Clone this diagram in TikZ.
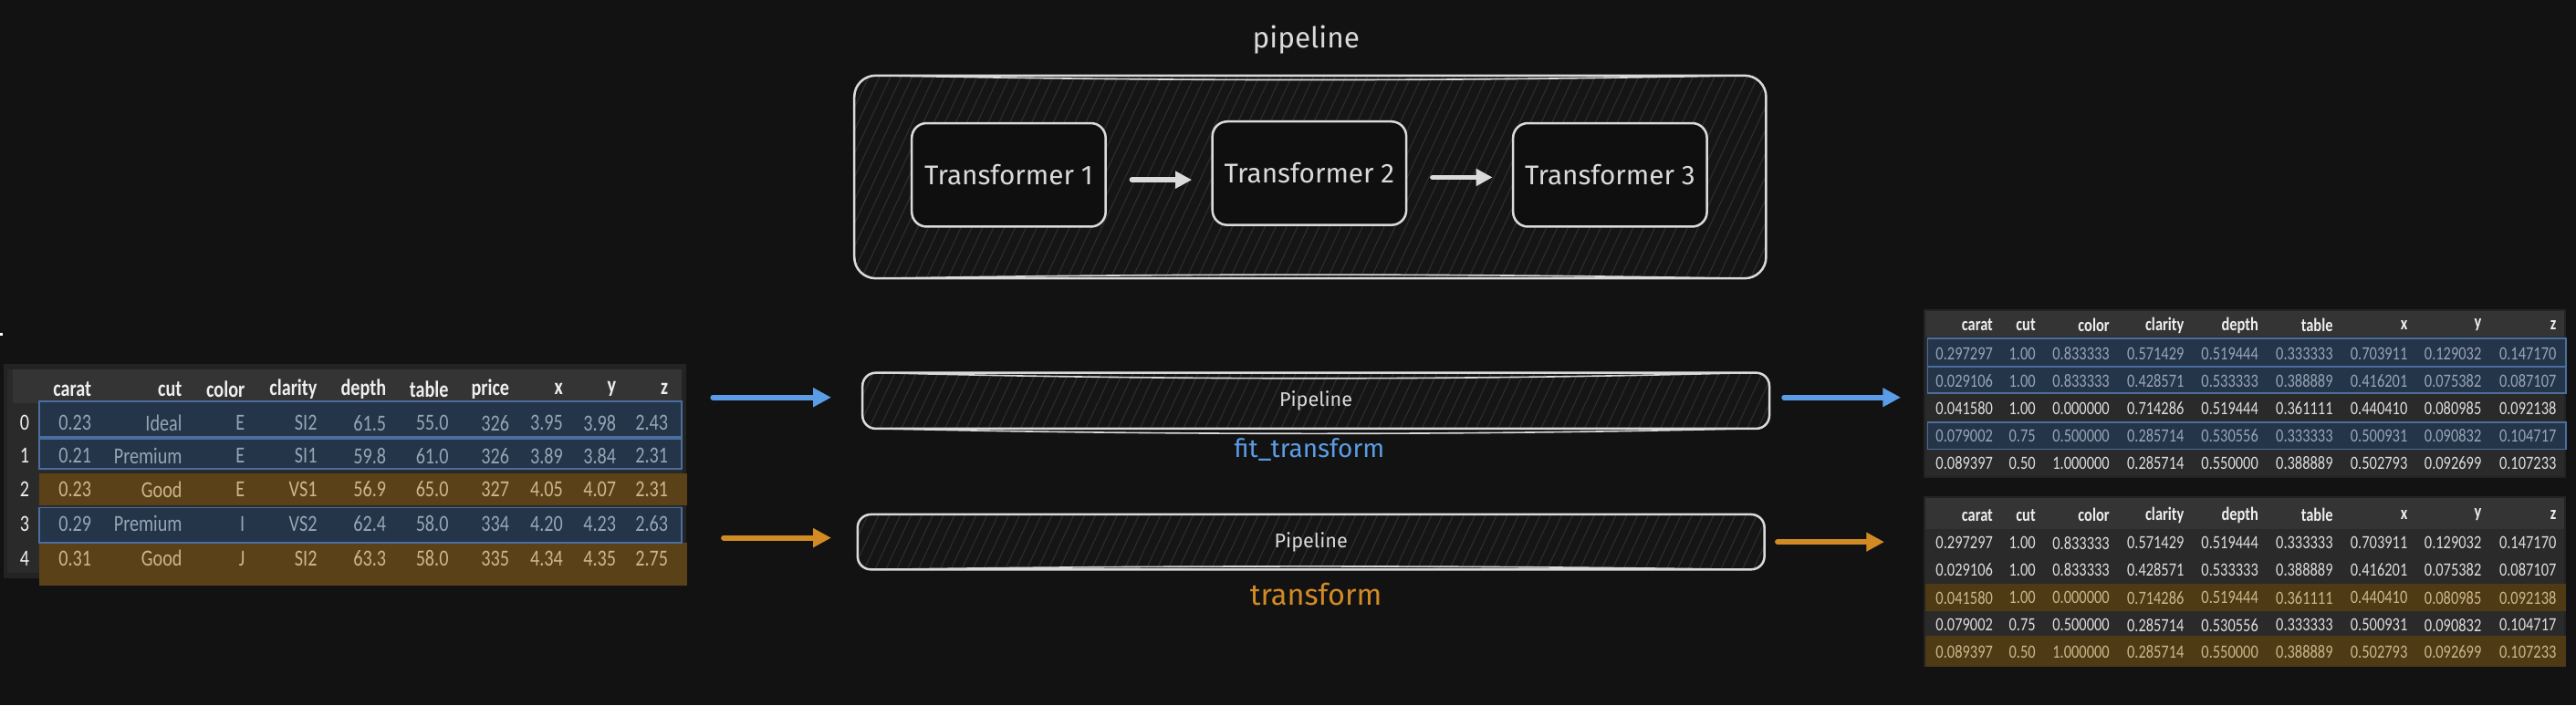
\documentclass[tikz,border=0pt]{standalone}
\usepackage{fontspec}
\usetikzlibrary{arrows.meta}
\newfontfamily\handfont{Fira Sans}
\newfontfamily\tabfont{Carlito}[FakeStretch=0.8]
\definecolor{bgc}{HTML}{121212}
\definecolor{boxc}{HTML}{DADADA}
\definecolor{hatchbg}{HTML}{151515}
\definecolor{hatchln}{HTML}{2E2E2E}
\definecolor{innerc}{HTML}{0F0F0F}
\definecolor{bluec}{HTML}{5A9DE6}
\definecolor{orangec}{HTML}{D18A24}
\definecolor{touter}{HTML}{232323}
\definecolor{tbody}{HTML}{2A2A2A}
\definecolor{theadc}{HTML}{343434}
\definecolor{hlblue}{HTML}{243449}
\definecolor{hlbluel}{HTML}{4C6E9F}
\definecolor{hlorange}{HTML}{5A4117}
\definecolor{hlorangeb}{HTML}{4E3A15}
\definecolor{txtc}{HTML}{DDDDDD}
\definecolor{headc}{HTML}{EEEEEE}
\definecolor{bluetxt}{HTML}{97A4B6}
\definecolor{orangetxt}{HTML}{CDB68A}
\def\lxs{{55.6,110.8,149,193,235,273,310,342.6,375,406.6}}
\def\rxs{{1213,1239,1284,1329.4,1374.6,1420,1465.4,1510.4,1556}}
\begin{document}
\begin{tikzpicture}[x=1pt,y=-1pt,
  every node/.style={inner sep=0pt,outer sep=0pt},
  hatched/.style={path picture={\foreach \dx in {-350,-343.4,...,350}
      \draw[hatchln,line width=0.6pt] ([shift={(\dx-35,75)}]path picture bounding box.center) -- ++(70,-150);}},
  pbox/.style={draw=boxc,line width=1.4pt,fill=hatchbg,hatched},
  sketch/.style={draw=boxc,line width=0.9pt,line cap=round},
  tbox/.style={draw=boxc,line width=1.4pt,fill=innerc,rounded corners=9pt,minimum width=118pt,minimum height=63pt,
      font=\handfont\fontsize{16.5}{19}\selectfont,text=boxc},
  handlbl/.style={font=\handfont\fontsize{17.5}{20}\selectfont},
  barlbl/.style={font=\handfont\fontsize{12}{14}\selectfont,text=boxc},
  warr/.style={draw=boxc,line width=3.2pt,line cap=round,-{Triangle[length=10pt,width=10pt]}},
  barr/.style={draw=bluec,line width=3.3pt,line cap=round,-{Triangle[length=11pt,width=11pt]}},
  oarr/.style={draw=orangec,line width=3.3pt,line cap=round,-{Triangle[length=11pt,width=11pt]}},
  tbg/.style={fill=touter},
  lcell/.style={font=\tabfont\fontsize{14}{16}\selectfont,anchor=east},
  lhead/.style={font=\tabfont\bfseries\fontsize{14}{16}\selectfont,anchor=east,text=headc},
  rcell/.style={font=\tabfont\fontsize{11.4}{13}\selectfont,anchor=east},
  rhead/.style={font=\tabfont\bfseries\fontsize{11.4}{13}\selectfont,anchor=east,text=headc},
  hlb/.style={fill=hlblue,draw=hlbluel,line width=0.9pt},
  hlo/.style={fill=hlorange},
  hlo2/.style={fill=hlorangeb}
]
\useasboundingbox (0,0) rectangle (1568,429.36);
\fill[bgc] (0,0) rectangle (1568,429.36);
\fill[white] (0,202.8) rectangle (1.7,204.5);

% ---------- pipeline overview ----------
\node[handlbl,text=boxc] (title) at (795,24) {pipeline};
\node[pbox,rounded corners=13pt,minimum width=555pt,minimum height=123.5pt] (pipe) at (797.5,107.75) {};
\draw[sketch] ([xshift=16pt]pipe.north west) .. controls +(180,3.5) and +(-180,3.5) .. ([xshift=-16pt]pipe.north east);
\draw[sketch] ([xshift=16pt]pipe.south west) .. controls +(180,-3) and +(-180,-3) .. ([xshift=-16pt]pipe.south east);
\node[tbox] (t1) at (614,106.5) {Transformer 1};
\node[tbox] (t2) at (797,105.5) {Transformer 2};
\node[tbox] (t3) at (980,106.5) {Transformer 3};
\draw[warr,shorten <=16pt,shorten >=12.5pt] ([yshift=-3pt]t1.east) -- ([yshift=-3pt]t1.east -| t2.west);
\draw[warr,shorten <=16pt,shorten >=12.5pt] ([yshift=-2.5pt]t2.east) -- ([yshift=-2.5pt]t2.east -| t3.west);

% ---------- pipeline bars ----------
\node[pbox,rounded corners=8pt,minimum width=552pt,minimum height=34pt,barlbl] (bar1) at (801,244) {Pipeline};
\draw[sketch] ([xshift=12pt]bar1.north west) .. controls +(170,4.5) and +(-170,4.5) .. ([xshift=-14pt]bar1.north east);
\draw[sketch] ([xshift=12pt]bar1.south west) .. controls +(170,4) and +(-170,4) .. ([xshift=-14pt]bar1.south east);
\node[pbox,rounded corners=8pt,minimum width=552pt,minimum height=33.5pt,barlbl] (bar2) at (798,330) {Pipeline};
\draw[sketch] ([xshift=14pt]bar2.south west) .. controls +(170,-2.5) and +(-170,-2.5) .. ([xshift=-14pt]bar2.south east);
\node[handlbl,text=bluec,font=\handfont\fontsize{15.5}{18}\selectfont] (fitlbl) at (797,274) {fit\_transform};
\node[handlbl,text=orangec,font=\handfont\fontsize{18}{20}\selectfont] (trlbl) at (801,362) {transform};

% ---------- left table ----------
\node[tbg,minimum width=415.3pt,minimum height=130.4pt] (lefttab) at (209.85,286.8) {};
\fill[tbody] (4.6,225) rectangle (415,349);
\fill[theadc] (8,225) rectangle (415,245.5);
\fill[hlo] (24,288) rectangle (418,307.5);
\fill[hlo] (24,330.5) rectangle (418,356.5);
\draw[hlb] (24,244.5) rectangle (415,266);
\draw[hlb] (24,267) rectangle (415,285.5);
\draw[hlb] (24,309) rectangle (415,330.5);
\foreach \h [count=\c] in {carat,cut,color,clarity,depth,table,price,x,y,z}{
  \pgfmathsetmacro\xx{\lxs[\c-1]}
  \node[lhead] (lh\c) at (\xx,237) {\h};
}
\foreach \r/\y/\tc/\vals in {
  0/257.5/bluetxt/{0.23,Ideal,E,SI2,61.5,55.0,326,3.95,3.98,2.43},
  1/277.5/bluetxt/{0.21,Premium,E,SI1,59.8,61.0,326,3.89,3.84,2.31},
  2/298/orangetxt/{0.23,Good,E,VS1,56.9,65.0,327,4.05,4.07,2.31},
  3/319/bluetxt/{0.29,Premium,I,VS2,62.4,58.0,334,4.20,4.23,2.63},
  4/340/orangetxt/{0.31,Good,J,SI2,63.3,58.0,335,4.34,4.35,2.75}}{
  \node[lcell,anchor=center,text=headc] (li\r) at (15,\y) {\r};
  \foreach \v [count=\c] in \vals {
    \pgfmathsetmacro\xx{\lxs[\c-1]}
    \node[lcell,text=\tc] (l\r-\c) at (\xx,\y) {\v};
  }
}

% ---------- right table 1 (fit_transform) ----------
\node[tbg,minimum width=391pt,minimum height=102.5pt] (rtab1) at (1366.5,239.75) {};
\fill[tbody] (1172,205) rectangle (1561,290);
\fill[theadc] (1172,189.5) rectangle (1561,205);
\draw[hlb] (1173.4,206) rectangle (1562,223);
\draw[hlb] (1173.4,223.5) rectangle (1562,239.5);
\draw[hlb] (1173.4,257) rectangle (1562,273.6);
\foreach \h [count=\c] in {carat,cut,color,clarity,depth,table,x,y,z}{
  \pgfmathsetmacro\xx{\rxs[\c-1]}
  \node[rhead] (ah\c) at (\xx,198) {\h};
}
\foreach \r/\y/\tc/\vals in {
  0/215.4/bluetxt/{0.297297,1.00,0.833333,0.571429,0.519444,0.333333,0.703911,0.129032,0.147170},
  1/232/bluetxt/{0.029106,1.00,0.833333,0.428571,0.533333,0.388889,0.416201,0.075382,0.087107},
  2/248.7/txtc/{0.041580,1.00,0.000000,0.714286,0.519444,0.361111,0.440410,0.080985,0.092138},
  3/265.3/bluetxt/{0.079002,0.75,0.500000,0.285714,0.530556,0.333333,0.500931,0.090832,0.104717},
  4/282/txtc/{0.089397,0.50,1.000000,0.285714,0.550000,0.388889,0.502793,0.092699,0.107233}}{
  \foreach \v [count=\c] in \vals {
    \pgfmathsetmacro\xx{\rxs[\c-1]}
    \node[rcell,text=\tc] (a\r-\c) at (\xx,\y) {\v};
  }
}

% ---------- right table 2 (transform) ----------
\node[tbg,minimum width=391pt,minimum height=104pt] (rtab2) at (1366.5,354) {};
\fill[tbody] (1172,322) rectangle (1561,405);
\fill[theadc] (1172,303) rectangle (1561,322);
\fill[hlo2] (1172,355.6) rectangle (1562,372);
\fill[hlo2] (1172,387) rectangle (1562,406);
\foreach \h [count=\c] in {carat,cut,color,clarity,depth,table,x,y,z}{
  \pgfmathsetmacro\xx{\rxs[\c-1]}
  \node[rhead] (bh\c) at (\xx,313.6) {\h};
}
\foreach \r/\y/\tc/\vals in {
  0/330.6/txtc/{0.297297,1.00,0.833333,0.571429,0.519444,0.333333,0.703911,0.129032,0.147170},
  1/347/txtc/{0.029106,1.00,0.833333,0.428571,0.533333,0.388889,0.416201,0.075382,0.087107},
  2/364/orangetxt/{0.041580,1.00,0.000000,0.714286,0.519444,0.361111,0.440410,0.080985,0.092138},
  3/380.6/txtc/{0.079002,0.75,0.500000,0.285714,0.530556,0.333333,0.500931,0.090832,0.104717},
  4/397/orangetxt/{0.089397,0.50,1.000000,0.285714,0.550000,0.388889,0.502793,0.092699,0.107233}}{
  \foreach \v [count=\c] in \vals {
    \pgfmathsetmacro\xx{\rxs[\c-1]}
    \node[rcell,text=\tc] (b\r-\c) at (\xx,\y) {\v};
  }
}

% ---------- connectors ----------
\draw[barr,shorten <=16.5pt,shorten >=19pt] ([yshift=2pt]bar1.west -| lefttab.east) -- ([yshift=2pt]bar1.west);
\draw[oarr,shorten <=23pt,shorten >=16pt] ([yshift=2.5pt]bar2.west -| lefttab.east) -- ([yshift=2.5pt]bar2.west);
\draw[barr,shorten <=9pt,shorten >=14pt] ([yshift=2pt]bar1.east) -- ([yshift=2pt]bar1.east -| rtab1.west);
\draw[oarr,shorten <=8pt,shorten >=24pt] (bar2.east) -- (bar2.east -| rtab2.west);
\end{tikzpicture}
\end{document}
